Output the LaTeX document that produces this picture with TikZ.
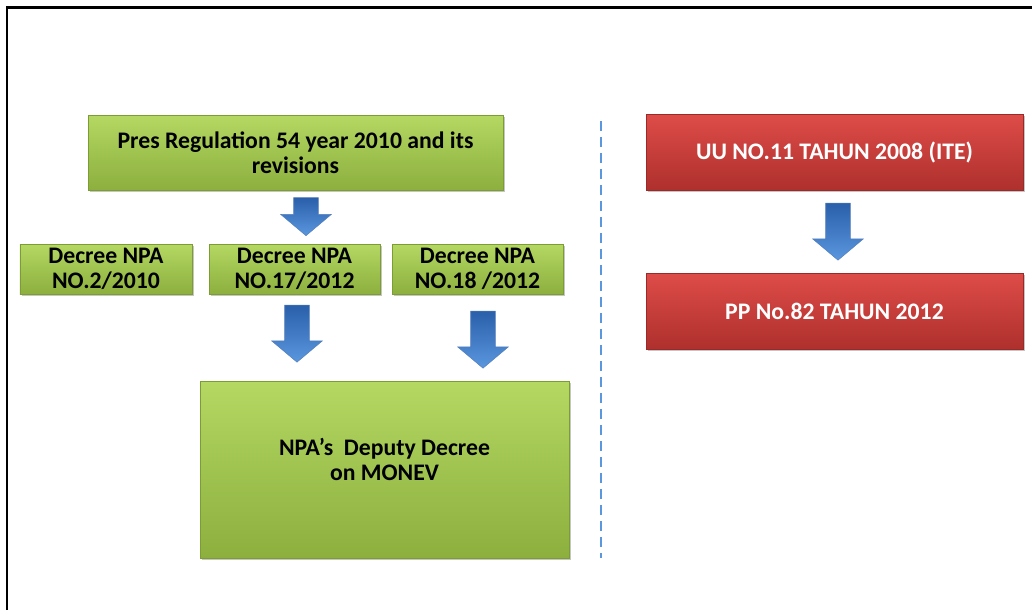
\documentclass[tikz,border=0pt]{standalone}
\usepackage{fontspec}
\setmainfont{Carlito}
\usepackage{xcolor}
\usepackage{tikz}
\usetikzlibrary{shapes.arrows,shadows}
\definecolor{leafTop}{HTML}{B4D862}
\definecolor{leafBot}{HTML}{8CAF3E}
\definecolor{leafLine}{HTML}{7C9C34}
\definecolor{brickTop}{HTML}{DE4C48}
\definecolor{brickBot}{HTML}{AE302D}
\definecolor{brickLine}{HTML}{9A2A27}
\definecolor{skyLight}{HTML}{5A97DE}
\definecolor{skyDark}{HTML}{2A5FAA}
\newcommand{\drawDownArrow}[4]{% name, center: x,y, length
  \node[downarrow,minimum height=#4] (#1) at (#2,#3) {};
}

\begin{document}
\begin{tikzpicture}[
  font=\fontsize{13.5}{14.5}\selectfont\bfseries,
  box/.style={draw=#1Line,line width=0.4pt,top color=#1Top,bottom color=#1Bot,
    align=center,inner sep=2pt,
    drop shadow={shadow xshift=0.04cm,shadow yshift=-0.04cm,fill=black!45,opacity=0.5}},
  greenbox/.style={box=leaf,text=black},
  redbox/.style={box=brick,text=white},
  downarrow/.style={single arrow,rotate=-90,inner xsep=0pt,inner ysep=0.24cm,
    single arrow head extend=0.26cm,single arrow tip angle=100,
    top color=skyDark,bottom color=skyLight,draw=skyDark!80,line width=0.3pt}]
\useasboundingbox (0,0) rectangle (20.64,-12.2);

% Frame
\draw[line width=0.06cm] (0.14,-12.2) -- (0.14,-0.15) -- (20.64,-0.15);

% Left part: regulation and decrees
\node[greenbox,minimum width=8.3cm,minimum height=1.5cm] (pres) at (5.91,-3.05)
  {Pres Regulation 54 year 2010 and its\\revisions};
\drawDownArrow{presArrow}{6.12}{-4.23}{0.76cm}

\node[greenbox,minimum width=3.44cm,minimum height=1cm] (npaTwo) at (2.12,-5.38)
  {Decree NPA\\NO.2/2010};
\node[greenbox,minimum width=3.42cm,minimum height=1cm] (npaSeventeen) at (5.89,-5.38)
  {Decree NPA\\NO.17/2012};
\node[greenbox,minimum width=3.42cm,minimum height=1cm] (npaEighteen) at (9.55,-5.38)
  {Decree NPA\\NO.18 /2012};

\drawDownArrow{seventeenArrow}{5.94}{-6.57}{1.14cm}
\drawDownArrow{eighteenArrow}{9.66}{-6.69}{1.14cm}

% Deputy decree
\node[greenbox,minimum width=7.38cm,minimum height=3.54cm] (monev) at (7.69,-9.39)
  {NPA's~ Deputy Decree\\on MONEV\\[-0.1cm]};

% Separator
\draw[skyLight,dashed,dash pattern=on 0.2cm off 0.12cm,line width=0.6pt]
  (12.02,-2.42) -- (12.02,-11.16);

% Right part: law and government regulation
\node[redbox,minimum width=7.54cm,minimum height=1.52cm] (uu) at (16.69,-3.04)
  {UU NO.11 TAHUN 2008 (ITE)};
\drawDownArrow{uuArrow}{16.76}{-4.53}{1.14cm}
\node[redbox,minimum width=7.54cm,minimum height=1.52cm] (pp) at (16.69,-6.22)
  {PP No.82 TAHUN 2012};

\end{tikzpicture}
\end{document}
